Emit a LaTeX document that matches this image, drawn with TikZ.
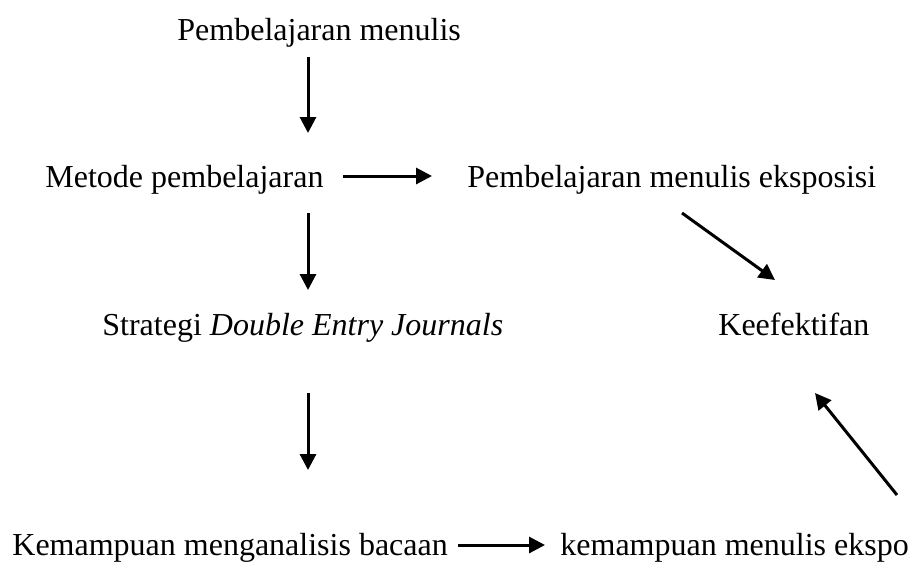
\documentclass[tikz,border=0pt]{standalone}
\usepackage{fontspec}
\setmainfont{Liberation Serif}
\usetikzlibrary{arrows.meta}
\begin{document}
\begin{tikzpicture}[x=0.5pt,y=-0.5pt,
  lbl/.style={inner sep=0pt, anchor=base west, font=\fontsize{16}{19}\selectfont},
  conn/.style={line width=1.5pt, -{Triangle[length=8pt,width=8pt]}}]
\useasboundingbox (0,0) rectangle (914,563);
\node[lbl] (pm) at (177,40) {Pembelajaran menulis};
\node[lbl] (mp) at (45,187) {Metode pembelajaran};
\node[lbl] (pme) at (467,187) {Pembelajaran menulis eksposisi};
\node[lbl] (sdej) at (102,335) {Strategi \textit{Double Entry Journals}};
\node[lbl] (kef) at (718,335) {Keefektifan};
\node[lbl] (kmb) at (12,555) {Kemampuan menganalisis bacaan};
\node[lbl] (kme) at (560,555) {kemampuan menulis ekspo};
\coordinate (a1s) at (308,57);
\coordinate (a1e) at (308,133);
\coordinate (a2s) at (343,176);
\coordinate (a2e) at (432,176);
\coordinate (a3s) at (308,213);
\coordinate (a3e) at (308,290);
\coordinate (a4s) at (682,213);
\coordinate (a4e) at (775,280);
\coordinate (a5s) at (308,393);
\coordinate (a5e) at (308,470);
\coordinate (a6s) at (897,495);
\coordinate (a6e) at (815,393);
\coordinate (a7s) at (458,545);
\coordinate (a7e) at (545,545);
\draw[conn] (a1s) -- (a1e);
\draw[conn] (a2s) -- (a2e);
\draw[conn] (a3s) -- (a3e);
\draw[conn] (a4s) -- (a4e);
\draw[conn] (a5s) -- (a5e);
\draw[conn] (a6s) -- (a6e);
\draw[conn] (a7s) -- (a7e);
\end{tikzpicture}
\end{document}
